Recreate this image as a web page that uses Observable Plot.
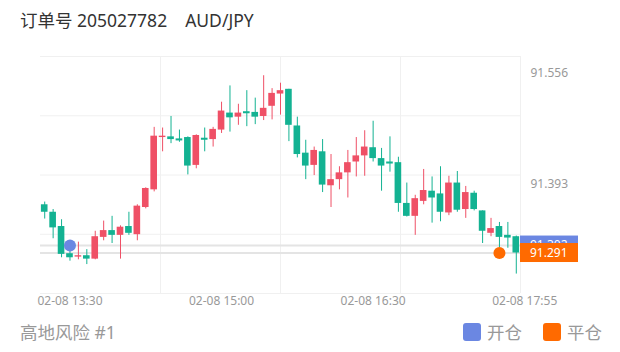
<!DOCTYPE html>
<html><head><meta charset="utf-8">
<script src="https://cdn.jsdelivr.net/npm/d3@7"></script>
<script src="https://cdn.jsdelivr.net/npm/@observablehq/plot@0.6"></script>
<style>
html,body{margin:0;padding:0;background:#fff;width:620px;height:352px;overflow:hidden;font-family:"Noto Sans","Noto Sans CJK SC",sans-serif;}
#title{position:absolute;left:20px;top:9px;font-size:17.5px;line-height:22px;color:#333;white-space:nowrap;}
#title .sym{margin-left:18px;}
#chart{position:absolute;left:0;top:40px;}
.ft{position:absolute;top:321px;font-size:17.5px;line-height:22px;color:#999;white-space:nowrap;}
.sw{position:absolute;top:323px;width:18px;height:18px;border-radius:3px;}
</style>
</head><body>
<div id="title">订单号 205027782<span class="sym">AUD/JPY</span></div>
<div id="chart"></div>
<div class="ft" style="left:20px">高地风险 #1</div>
<div class="sw" style="left:463px;background:#6b87e2"></div>
<div class="ft" style="left:487px">开仓</div>
<div class="sw" style="left:543px;background:#ff6a00"></div>
<div class="ft" style="left:567px">平仓</div>
<script>
// 5-minute candles, 02-08 13:15 … 17:55 (index 0 … 56)
const open  = [91.362,91.351,91.330,91.290,91.285,91.287,91.282,91.314,91.324,91.317,91.330,91.318,91.358,91.384,91.461,91.462,91.459,91.461,91.420,91.460,91.458,91.472,91.497,91.491,91.499,91.498,91.492,91.507,91.525,91.532,91.478,91.438,91.420,91.440,91.390,91.399,91.409,91.425,91.434,91.446,91.430,91.425,91.424,91.364,91.345,91.367,91.382,91.378,91.350,91.394,91.355,91.379,91.353,91.320,91.330,91.317,91.315];
const high  = [91.366,91.355,91.340,91.295,91.307,91.296,91.323,91.338,91.345,91.331,91.351,91.362,91.387,91.476,91.475,91.492,91.472,91.462,91.465,91.475,91.476,91.513,91.537,91.510,91.530,91.519,91.552,91.533,91.541,91.532,91.491,91.457,91.447,91.458,91.436,91.418,91.442,91.461,91.471,91.485,91.445,91.462,91.432,91.394,91.376,91.414,91.403,91.418,91.404,91.411,91.389,91.382,91.353,91.342,91.336,91.336,91.316];
const low   = [91.341,91.312,91.284,91.279,91.281,91.274,91.281,91.309,91.305,91.282,91.317,91.309,91.356,91.381,91.440,91.452,91.454,91.406,91.415,91.440,91.447,91.467,91.469,91.479,91.477,91.480,91.486,91.487,91.494,91.455,91.431,91.399,91.405,91.380,91.358,91.384,91.372,91.403,91.404,91.425,91.382,91.410,91.351,91.344,91.317,91.362,91.335,91.337,91.346,91.351,91.342,91.353,91.305,91.315,91.299,91.298,91.260];
const close = [91.351,91.328,91.289,91.284,91.287,91.282,91.315,91.324,91.317,91.329,91.320,91.360,91.386,91.463,91.463,91.458,91.456,91.419,91.464,91.457,91.473,91.500,91.490,91.497,91.496,91.491,91.504,91.526,91.530,91.479,91.436,91.419,91.442,91.391,91.399,91.409,91.424,91.434,91.447,91.430,91.419,91.422,91.364,91.345,91.371,91.383,91.372,91.351,91.394,91.354,91.380,91.355,91.323,91.327,91.314,91.313,91.291];

const xTicks = [3, 21, 39, 57];
const xTickLabels = ["02-08 13:30", "02-08 15:00", "02-08 16:30", "02-08 17:55"];
const yTicks = [91.556, 91.393];

const openIndex = 3,  openPrice = 91.302;
const closeIndex = 54, closePrice = 91.291;

const RED = "#ef5066", GREEN = "#13b292", BLUE = "#6b87e2", ORANGE = "#ff6a00";

const W = 620, H = 275, ML = 40, MR = 100, MT = 16, MB = 22;
const xDomain = [-0.5, open.length - 0.5];
const yDomain = [91.2314, 91.5803];

const candles = open.map((o, i) => ({i, o, h: high[i], l: low[i], c: close[i], up: close[i] > o}));
const hGrid = d3.range(5).map(k => yDomain[0] + k * (yDomain[1] - yDomain[0]) / 4);
const vGrid = d3.range(1, 5).map(k => xDomain[0] + k * (xDomain[1] - xDomain[0]) / 4);
const tickLabel = new Map(xTicks.map((t, k) => [t, xTickLabels[k]]));
const tags = [
  {value: openPrice, color: BLUE},
  {value: closePrice, color: ORANGE}
];

const chart = Plot.plot({
  width: W, height: H,
  marginLeft: ML, marginRight: MR, marginTop: MT, marginBottom: MB,
  style: {fontFamily: '"Noto Sans", sans-serif', fontSize: "12px", color: "#999", background: "transparent", overflow: "visible"},
  x: {domain: xDomain, ticks: xTicks, tickFormat: d => tickLabel.get(d), tickSize: 0, tickPadding: 3, label: null, axis: "bottom"},
  y: {domain: yDomain, ticks: yTicks, tickFormat: d3.format(".3f"), tickSize: 0, tickPadding: 10, label: null, axis: "right"},
  marks: [
    Plot.ruleY(hGrid, {stroke: "#f0f0f0"}),
    Plot.ruleX(vGrid, {stroke: "#f0f0f0"}),
    Plot.ruleY([openPrice, closePrice], {stroke: "#e4e4e4", strokeWidth: 2}),
    Plot.ruleX(candles, {x: "i", y1: "l", y2: "h", stroke: d => d.up ? RED : GREEN, strokeWidth: 1}),
    Plot.rect(candles, {x1: d => d.i - 0.5, x2: d => d.i + 0.5, y1: "o", y2: "c", fill: d => d.up ? RED : GREEN, insetLeft: 0.9, insetRight: 0.9}),
    Plot.dot([{i: openIndex, v: openPrice}], {x: "i", y: "v", r: 6, fill: BLUE}),
    Plot.dot([{i: closeIndex, v: closePrice}], {x: "i", y: "v", r: 6, fill: ORANGE}),
    (index, scales, values, dims) => {
      const y = scales.y;
      const x0 = dims.width - dims.marginRight;
      const g = d3.create("svg:g").attr("text-anchor", "start");
      for (const t of tags) {
        const yy = y(t.value);
        g.append("rect").attr("x", x0).attr("y", yy - 9.5).attr("width", 58).attr("height", 19).attr("fill", t.color);
        g.append("text").attr("x", x0 + 10).attr("y", yy).attr("dy", "0.35em")
          .attr("fill", "#fff").attr("font-size", 12).text(d3.format(".3f")(t.value));
      }
      return g.node();
    }
  ]
});
document.getElementById("chart").appendChild(chart);
</script>
</body></html>
